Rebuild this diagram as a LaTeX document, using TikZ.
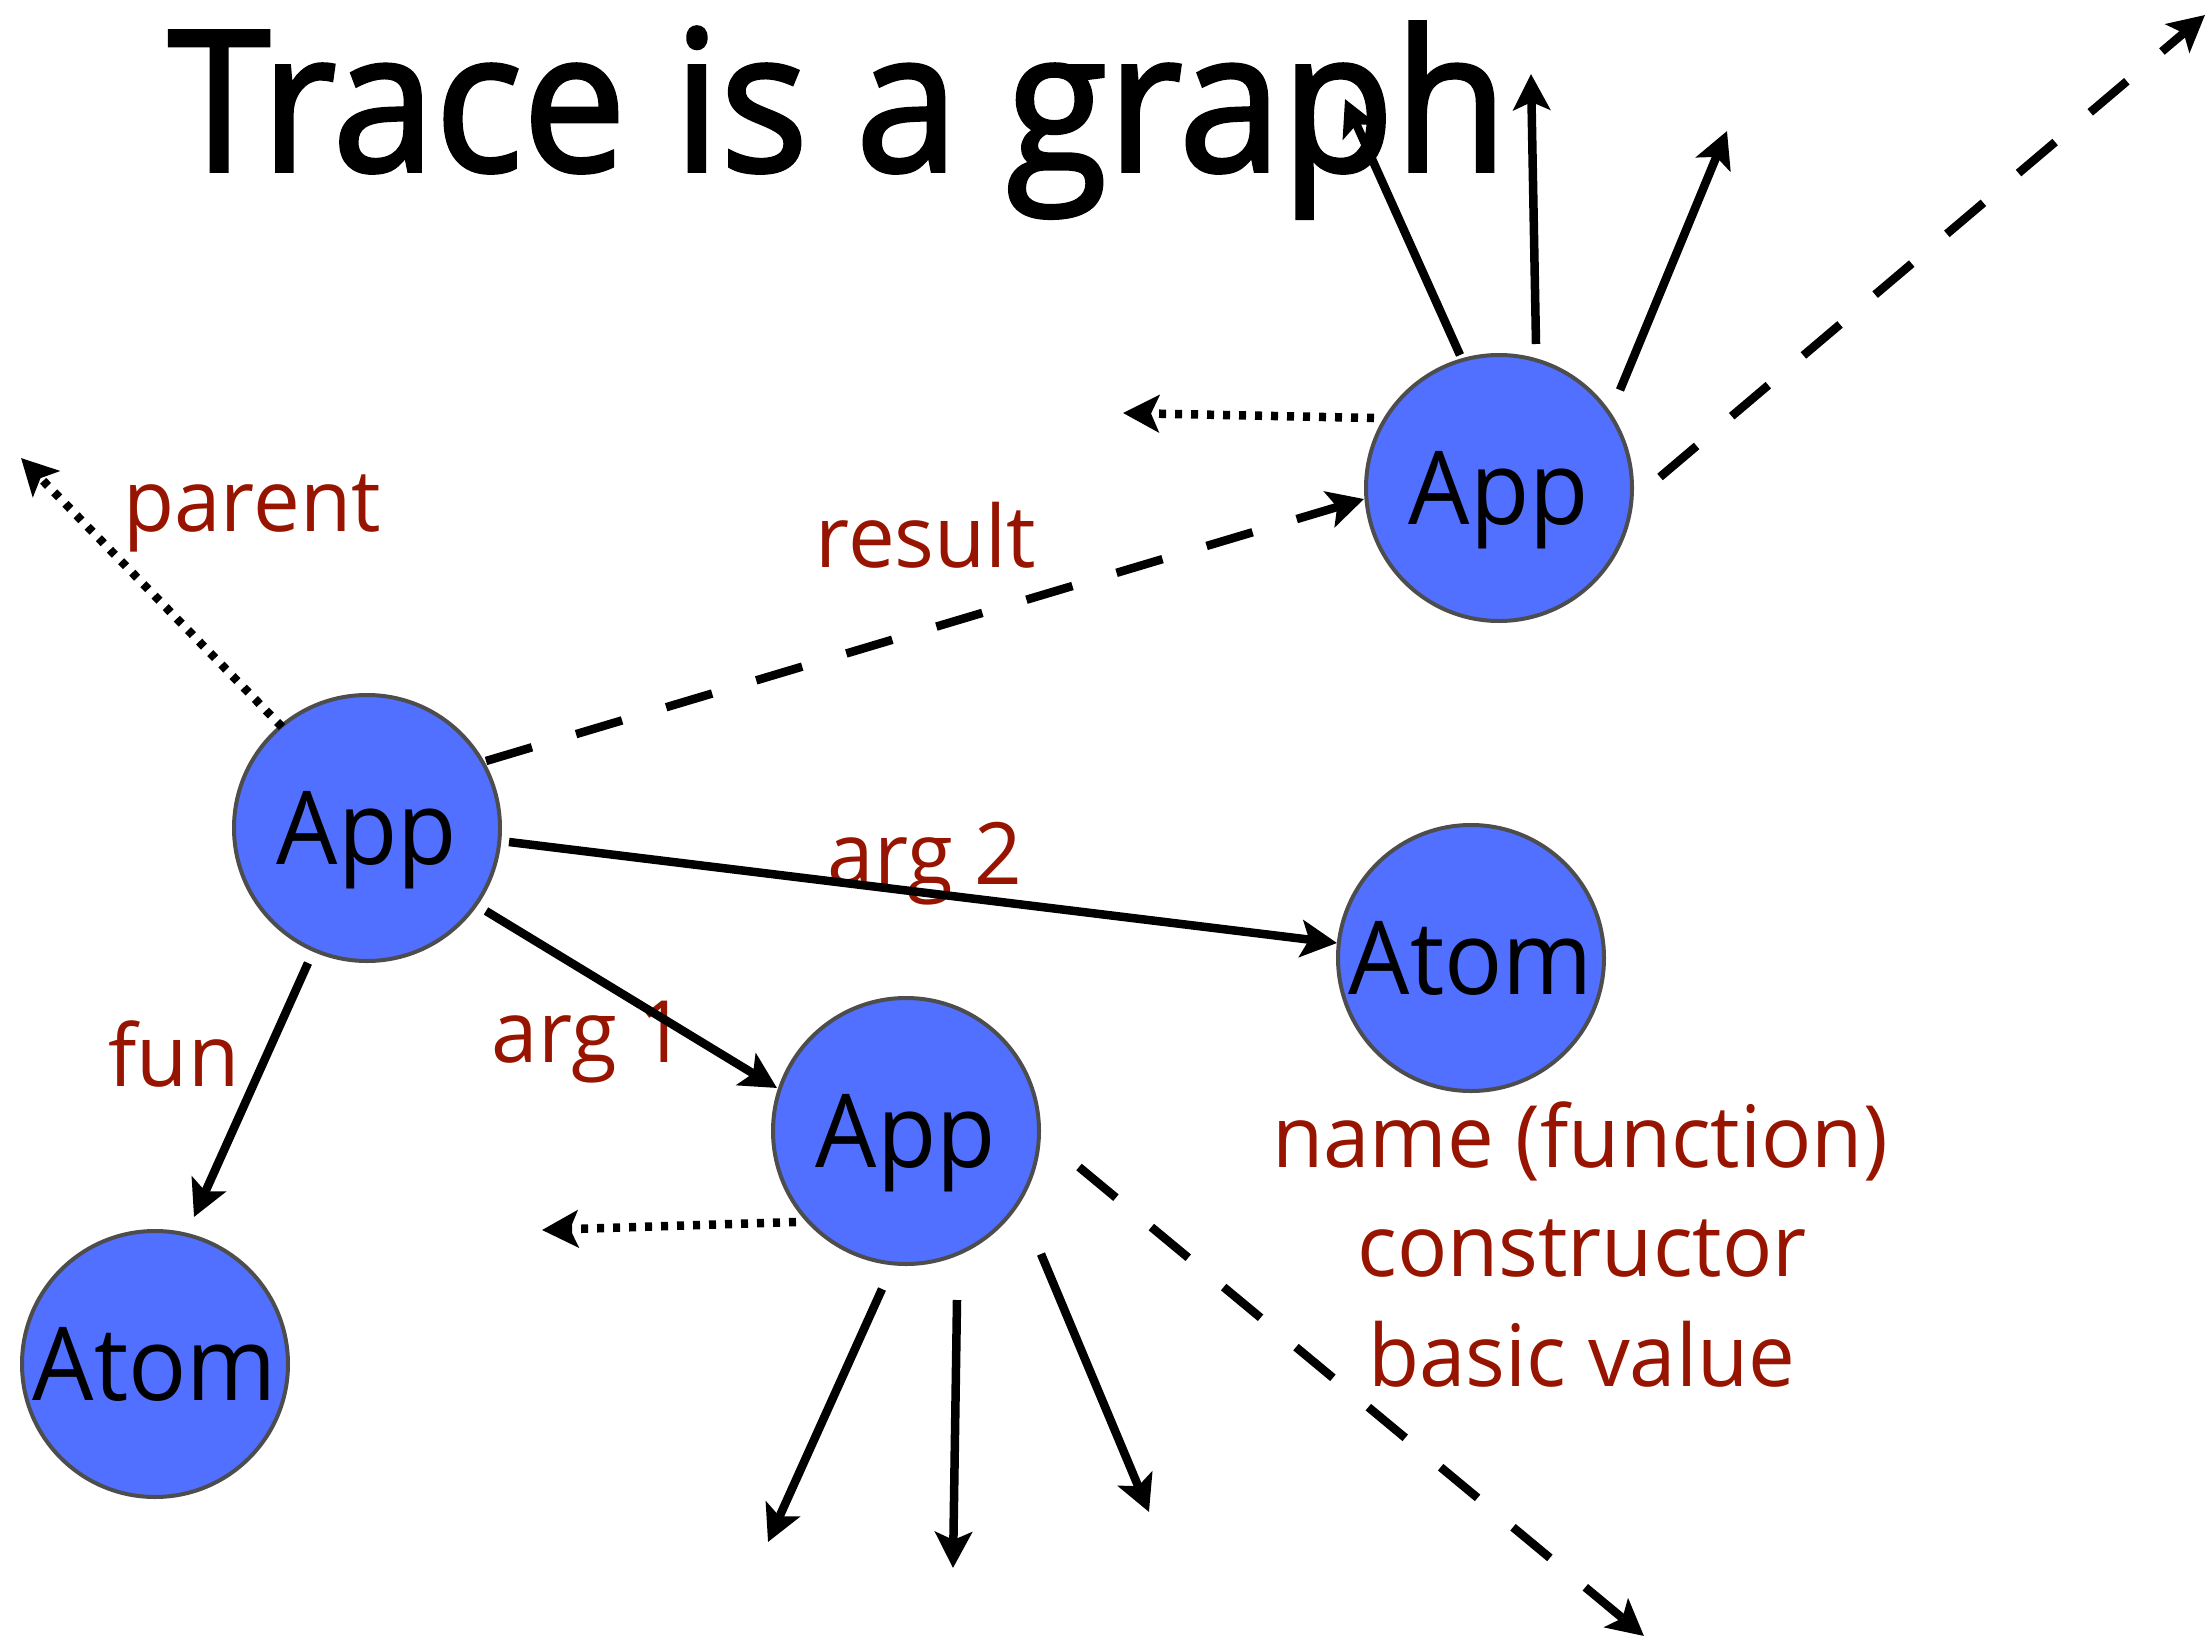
\documentclass[tikz,border=0pt]{standalone}
\usepackage{fontspec}
\setmainfont{Open Sans}
\newfontfamily\titlefont[FakeBold=2]{Open Sans}
\usepackage{graphicx}
\usetikzlibrary{arrows.meta,calc}
\definecolor{nodeblue}{RGB}{82,112,255}
\definecolor{nodeedge}{RGB}{77,77,77}
\definecolor{labred}{RGB}{150,20,0}
\newcommand\gsx[1]{\scalebox{0.95}[1]{#1}}
\newcommand\lbx[1]{\scalebox{0.97}[1]{#1}}
\begin{document}
\begin{tikzpicture}[x=1pt,y=-1pt,
  vnode/.style={circle, fill=nodeblue, draw=nodeedge, line width=4pt, minimum size=266pt,
    inner sep=0pt, text depth=0pt, font=\fontsize{102}{110}\selectfont},
  lab/.style={text=labred, anchor=base, inner sep=0pt, font=\fontsize{86}{100}\selectfont},
  edge/.style={line width=8.5pt, -{Stealth[length=36pt,width=37pt,inset=8pt]}},
  dashedge/.style={edge, dash pattern=on 48pt off 46pt},
  dotedge/.style={edge, line width=8.5pt, dash pattern=on 7pt off 9pt},
]
\useasboundingbox (0,0) rectangle (2209,1640);

% title
\node[anchor=base west, inner sep=0pt, font=\titlefont\fontsize{196}{230}\selectfont] (title) at (168,171)
  {\scalebox{0.94}[1]{Trace is a graph}};

% nodes
\node[vnode] (app1)  at (367,828)  {\gsx{App}};
\node[vnode] (app2)  at (1499,488) {\gsx{App}};
\node[vnode] (atom2) at (1471,958) {\gsx{Atom}};
\node[vnode] (app3)  at (906,1131) {\gsx{App}};
\node[vnode] (atom1) at (155,1364) {\gsx{Atom}};

% labels
\node[lab] (lparent) at (252,531)  {\lbx{parent}};
\node[lab] (lresult) at (926,567)  {\lbx{result}};
\node[lab] (larg2)   at (925,884)  {\lbx{arg 2}};
\node[lab] (larg1)   at (589,1062) {\lbx{arg 1}};
\node[lab] (lfun)    at (174,1086) {\lbx{fun}};
\node[lab] (lname)   at (1580,1167) {\lbx{name (function)}};
\node[lab] (lcons)   at (1582,1276) {\lbx{constructor}};
\node[lab] (lbasic)  at (1582,1386) {\lbx{basic value}};

% free ends
\coordinate (pend)  at (21,458);
\coordinate (d3end) at (542,1230);
\coordinate (a3end) at (768,1542);
\coordinate (b3end) at (953,1568);
\coordinate (c3end) at (1149,1512);
\coordinate (e3end) at (1644,1636);
\coordinate (a2end) at (1345,99);
\coordinate (b2end) at (1531,74);
\coordinate (c2end) at (1727,131);
\coordinate (d2end) at (1123,413);
\coordinate (e2end) at (2205,15);

% connectors
\draw[dotedge]  ($(app1)+(-85,-101)$) -- (pend);
\draw[dashedge] ($(app1)+(119,-67)$) -- ($(app2)+(-135,11)$);
\draw[edge]     ($(app1)+(142,14)$) -- ($(atom2)+(-134,-15)$);
\draw[edge]     ($(app1)+(119,83)$) -- ($(app3)+(-129,-43)$);
\draw[edge]     ($(app1)+(-59,135)$) -- ($(atom1)+(39,-147)$);

\draw[dotedge]  ($(app3)+(-110,91)$) -- (d3end);
\draw[edge]     ($(app3)+(-24,158)$) -- (a3end);
\draw[edge]     ($(app3)+(51,169)$) -- (b3end);
\draw[edge]     ($(app3)+(135,123)$) -- (c3end);
\draw[dashedge] ($(app3)+(173,36)$) -- (e3end);

\draw[edge]     ($(app2)+(-39,-133)$) -- (a2end);
\draw[edge]     ($(app2)+(37,-144)$) -- (b2end);
\draw[edge]     ($(app2)+(121,-98)$) -- (c2end);
\draw[dotedge]  ($(app2)+(-125,-70)$) -- (d2end);
\draw[dashedge] ($(app2)+(161,-11)$) -- (e2end);
\end{tikzpicture}
\end{document}
